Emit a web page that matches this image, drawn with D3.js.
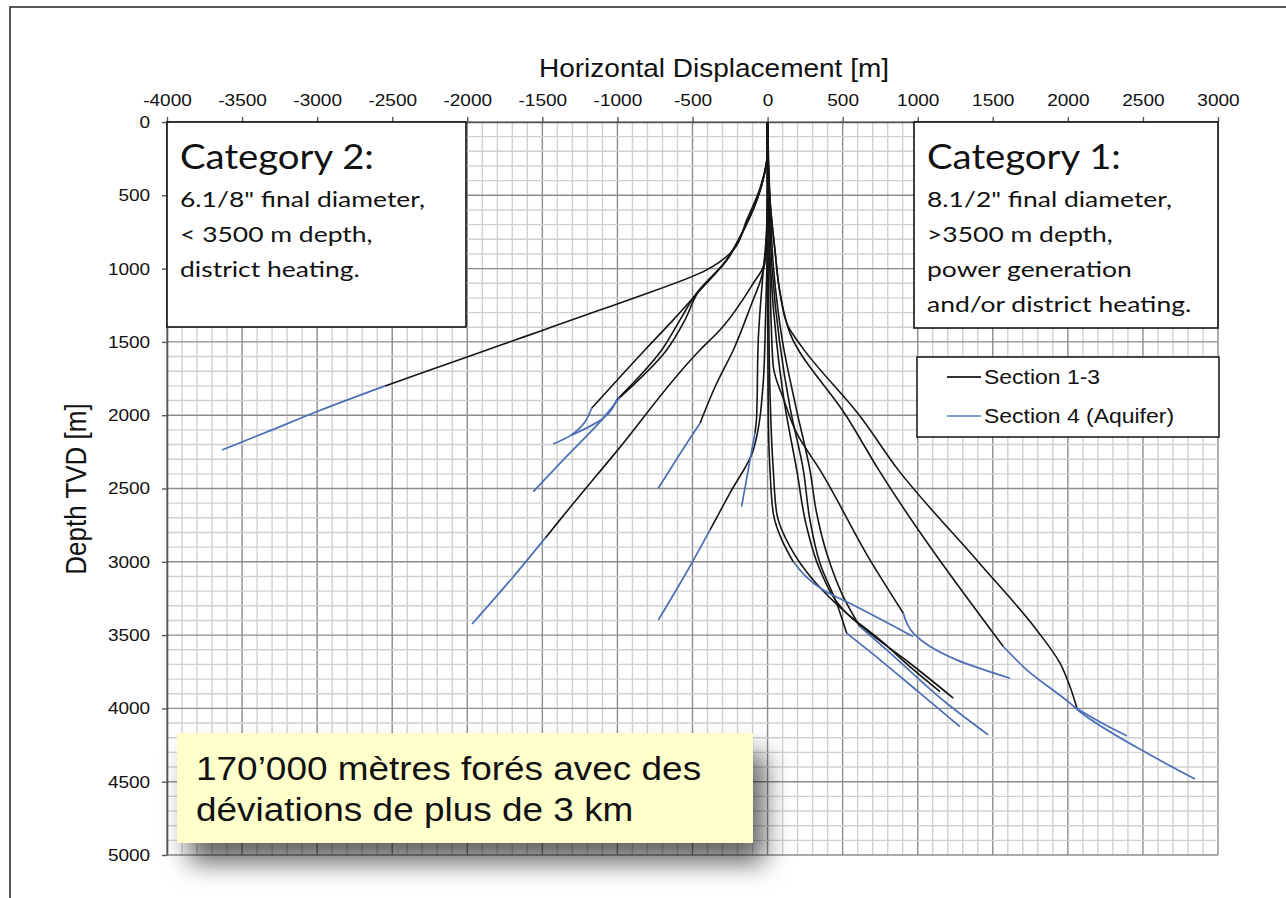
<!DOCTYPE html>
<html>
<head>
<meta charset="utf-8">
<script src="https://cdn.jsdelivr.net/npm/d3@7"></script>
<style>
  body { margin: 0; background: #fff; }
</style>
</head>
<body>
<svg id="chart" width="1286" height="898"></svg>
<script>
// tick values of both axes
const xTicks = [-4000, -3500, -3000, -2500, -2000, -1500, -1000, -500, 0, 500, 1000, 1500, 2000, 2500, 3000];
const depthTicks = [0, 500, 1000, 1500, 2000, 2500, 3000, 3500, 4000, 4500, 5000];

// well paths: [horizontal displacement m, depth TVD m]
// "Black" = section 1-3, "Blue" = section 4 (aquifer)
const westFarBlack = [[0,0],[0,200],[-50,450],[-139,668],[-228,873],[-406,1009],[-894,1202],[-1117,1283],[-1496,1420],[-1762,1516],[-2300,1711],[-2547,1800]];
const westFarBlue = [[-2547,1800],[-3000,1975],[-3300,2100],[-3634,2237]];
const westHookBlack = [[0,0],[0,200],[-45,450],[-160,740],[-275,945],[-470,1170],[-628,1350],[-817,1555],[-1172,1953]];
const westHookBlue = [[-1172,1953],[-1316,2141],[-1427,2196]];
const westCrossBlack = [[0,0],[0,200],[-45,450],[-165,745],[-280,950],[-478,1175],[-583,1350],[-705,1555],[-1005,1896]];
const westCrossBlue = [[-1005,1896],[-1094,2021],[-1305,2137]];
const westMidBlack = [[0,0],[0,200],[-45,450],[-158,735],[-268,938],[-465,1165],[-550,1350],[-672,1555],[-983,1878]];
const westMidBlue = [[-983,1878],[-1105,2032],[-1361,2305],[-1560,2521]];
const westDeepBlack = [[0,0],[0,500],[-10,850],[-29,987],[-95,1100],[-317,1419],[-450,1555],[-1000,2240],[-1383,2714],[-1480,2837]];
const westDeepBlue = [[-1480,2837],[-1700,3110],[-1968,3424]];
const westShortBlack = [[0,0],[0,500],[-10,900],[-40,1057],[-110,1250],[-228,1555],[-339,1782],[-450,2055]];
const westShortBlue = [[-450,2055],[-600,2290],[-728,2498]];
const nearVertBlack = [[0,0],[0,500],[-10,800],[-30,1030],[-62,1487],[-73,2012],[-84,2121]];
const nearVertBlue = [[-84,2121],[-130,2380],[-173,2624]];
const westLateBlack = [[0,0],[0,500],[-5,1000],[-15,1400],[-29,1780],[-95,2237],[-250,2530],[-383,2782]];
const westLateBlue = [[-383,2782],[-550,3090],[-727,3396]];

const eastFarBlack = [[0,0],[5,300],[16,532],[49,873],[83,1166],[138,1396],[227,1532],[620,2012],[870,2373],[1410,3008],[1792,3465],[1947,3690],[2014,3851],[2061,4000]];
const eastFarBlue = [[2061,4000],[2214,4092],[2392,4187]];
const eastLongBlack = [[0,0],[5,300],[16,532],[49,873],[83,1166],[149,1440],[529,2012],[740,2373],[1570,3578]];
const eastLongBlue = [[1570,3578],[1726,3737],[2014,3964],[2081,4023],[2526,4305],[2847,4482]];
const eastMidBlack = [[0,0],[5,500],[15,1000],[25,1400],[38,1669],[110,1900],[194,2123],[349,2373],[682,2987],[904,3351]];
const eastMidBlue = [[904,3351],[971,3487],[1082,3578],[1259,3669],[1615,3794]];
const eastLateBlack = [[0,0],[0,1000],[5,2000],[16,2373],[38,2669],[105,2873],[171,3000]];
const eastLateBlue = [[171,3000],[371,3192],[593,3306],[970,3510]];
const eastBundle1Black = [[0,0],[0,500],[5,1000],[15,1800],[38,2373],[61,2669],[149,2896],[304,3124],[527,3351],[749,3533],[948,3715],[1148,3885]];
const eastBundle2Black = [[0,0],[5,500],[20,1000],[60,1500],[110,1900],[194,2373],[260,2760],[349,3055],[504,3328],[682,3487],[948,3692],[1237,3930]];
const eastBundle3Black = [[0,0],[10,500],[30,1000],[80,1500],[150,1950],[238,2373],[282,2714],[349,3010],[460,3283],[527,3487]];
const eastBundle3Blue = [[527,3487],[749,3669],[1015,3896],[1281,4124]];
const eastBundle4Black = [[0,0],[15,500],[40,1000],[100,1500],[190,1950],[282,2373],[327,2669],[394,2942],[504,3237],[615,3442]];
const eastBundle4Blue = [[615,3442],[793,3601],[1193,3965],[1470,4181]];

const sectionBlack = [westFarBlack, westHookBlack, westCrossBlack, westMidBlack, westDeepBlack, westShortBlack,
  nearVertBlack, westLateBlack, eastFarBlack, eastLongBlack, eastMidBlack, eastLateBlack,
  eastBundle1Black, eastBundle2Black, eastBundle3Black, eastBundle4Black];
const sectionBlue = [westFarBlue, westHookBlue, westCrossBlue, westMidBlue, westDeepBlue, westShortBlue,
  nearVertBlue, westLateBlue, eastFarBlue, eastLongBlue, eastMidBlue, eastLateBlue,
  eastBundle3Blue, eastBundle4Blue];

const legendLabels = ["Section 1-3", "Section 4 (Aquifer)"];
const cat2Lines = ['6.1/8" final diameter,', "< 3500 m depth,", "district heating."];
const cat1Lines = ['8.1/2" final diameter,', ">3500 m depth,", "power generation", "and/or district heating."];
const noteLines = ["170\u2019000 mètres forés avec des", "déviations de plus de 3 km"];

const BLACK = "#151515";
const BLUE = "#4b6fb5";
const ARIAL = "'Liberation Sans', Arial, sans-serif";
const CALIBRI = "Lato, 'Open Sans', sans-serif";
const SX = 1.12; // the source picture is a little wider than tall

const svg = d3.select("#chart");
const x = d3.scaleLinear().domain([-4000, 3000]).range([167, 1218]);
const y = d3.scaleLinear().domain([0, 5000]).range([122, 855]);

const defs = svg.append("defs");
const shadow = defs.append("filter").attr("id", "shadow")
  .attr("x", "-20%").attr("y", "-40%").attr("width", "145%").attr("height", "210%");
shadow.append("feDropShadow").attr("dx", 12).attr("dy", 20).attr("stdDeviation", 13)
  .attr("flood-color", "#000").attr("flood-opacity", 0.6);

// outer frame of the slide picture
svg.append("path").attr("d", "M10,898V7H1286")
  .attr("fill", "none").attr("stroke", "#222").attr("stroke-width", 1.5);

// grid: minor every 100 m, major every 500 m
const grid = svg.append("g");
const gx = d3.range(-4000, 3001, 100).sort((a, b) => (a % 500 === 0) - (b % 500 === 0));
const gy = d3.range(0, 5001, 100).sort((a, b) => (a % 500 === 0) - (b % 500 === 0));
grid.selectAll("line.v").data(gx).join("line").attr("class", "v")
  .attr("x1", d => x(d)).attr("x2", d => x(d)).attr("y1", y(0)).attr("y2", y(5000))
  .attr("stroke", d => d % 500 === 0 ? "#8c8c8c" : "#d0d0d0").attr("stroke-width", 1.4);
grid.selectAll("line.h").data(gy).join("line").attr("class", "h")
  .attr("x1", x(-4000)).attr("x2", x(3000)).attr("y1", d => y(d)).attr("y2", d => y(d))
  .attr("stroke", d => d % 500 === 0 ? "#8c8c8c" : "#d0d0d0").attr("stroke-width", 1.4);

// axes
const xAxis = svg.append("g").attr("transform", `translate(0,${y(0)})`)
  .call(d3.axisTop(x).tickValues(xTicks).tickSize(5).tickSizeOuter(0).tickPadding(11).tickFormat(d => String(d)));
const yAxis = svg.append("g").attr("transform", `translate(${x(-4000)},0)`)
  .call(d3.axisLeft(y).tickValues(depthTicks).tickSize(5).tickSizeOuter(0).tickPadding(10).tickFormat(d => String(d)));
[xAxis, yAxis].forEach(a => {
  a.select(".domain").attr("stroke", "#555").attr("stroke-width", 1.6);
  a.selectAll(".tick line").attr("stroke", "#555").attr("stroke-width", 1.4);
  a.selectAll(".tick text").attr("font-family", ARIAL).attr("font-size", 17)
    .attr("fill", "#111").attr("transform", `scale(${SX},1)`);
});

svg.append("text").attr("font-family", ARIAL).attr("font-size", 25).attr("fill", "#111")
  .attr("text-anchor", "middle").attr("transform", `translate(714,77) scale(${SX},1)`)
  .text("Horizontal Displacement [m]");
svg.append("text").attr("font-family", ARIAL).attr("font-size", 26).attr("fill", "#111")
  .attr("text-anchor", "middle").attr("transform", `translate(86,489) rotate(-90) scale(1,${SX})`)
  .text("Depth TVD [m]");

// wells
const line = d3.line().x(d => x(d[0])).y(d => y(d[1])).curve(d3.curveMonotoneY);
svg.append("g").selectAll("path").data(sectionBlack).join("path")
  .attr("d", line).attr("fill", "none").attr("stroke", BLACK).attr("stroke-width", 1.6);
svg.append("g").selectAll("path").data(sectionBlue).join("path")
  .attr("d", line).attr("fill", "none").attr("stroke", BLUE).attr("stroke-width", 1.7);

// category boxes
function categoryBox(x0, y0, w, h, title, lines) {
  const g = svg.append("g");
  g.append("rect").attr("x", x0).attr("y", y0).attr("width", w).attr("height", h)
    .attr("fill", "#fff").attr("stroke", "#111").attr("stroke-width", 1.6);
  const head = g.append("text").attr("font-family", CALIBRI).attr("font-size", 35).attr("fill", "#111").text(title);
  const hs = 194 / head.node().getComputedTextLength();
  head.attr("transform", `translate(${x0 + 13},${y0 + 47}) scale(${hs},1)`);
  const body = g.selectAll("text.body").data(lines).join("text").attr("class", "body")
    .attr("font-family", CALIBRI).attr("font-size", 21.5).attr("fill", "#111").text(d => d);
  const bs = 245 / body.node().getComputedTextLength();
  body.attr("transform", (d, i) => `translate(${x0 + 13},${y0 + 85 + i * 35}) scale(${bs},1)`);
}
categoryBox(x(-4000), y(0), 299, 205, "Category 2:", cat2Lines);
categoryBox(914, y(0), x(3000) - 914, 206, "Category 1:", cat1Lines);

// legend
const legend = svg.append("g").attr("transform", "translate(917,357)");
legend.append("rect").attr("width", 302).attr("height", 80)
  .attr("fill", "#fff").attr("stroke", "#111").attr("stroke-width", 1.5);
const item = legend.selectAll("g.item").data(legendLabels).join("g").attr("class", "item")
  .attr("transform", (d, i) => `translate(0,${20 + i * 39})`);
item.append("line").attr("x1", 30).attr("x2", 64)
  .attr("stroke", (d, i) => i === 0 ? "#333" : "#7f9fd0").attr("stroke-width", 1.8);
item.append("text").attr("font-family", ARIAL).attr("font-size", 20.5).attr("fill", "#111")
  .attr("transform", `translate(67,7) scale(${SX},1)`).text(d => d);

// yellow note with its shadow
const note = svg.append("g");
note.append("rect").attr("x", 177).attr("y", 733).attr("width", 576).attr("height", 110)
  .attr("fill", "#ffffcc").attr("filter", "url(#shadow)");
note.selectAll("text").data(noteLines).join("text")
  .attr("font-family", ARIAL).attr("font-size", 33).attr("fill", "#111")
  .attr("transform", (d, i) => `translate(196,${780 + i * 41}) scale(${SX},1)`).text(d => d);
</script>
</body>
</html>
